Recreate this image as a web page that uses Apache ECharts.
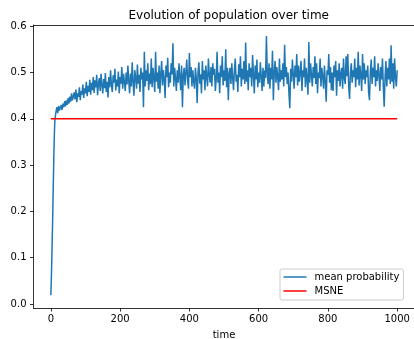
<!DOCTYPE html>
<html>
<head>
<meta charset="utf-8">
<script src="https://cdn.jsdelivr.net/npm/echarts@6/dist/echarts.min.js"></script>
<style>
html,body{margin:0;padding:0;background:#fff;}
#chart{width:414px;height:339px;}
</style>
</head>
<body>
<div id="chart"></div>
<script>
// ---- data ----
const titleText = "Evolution of population over time";
const xLabel = "time";
const seriesNames = ["mean probability", "MSNE"];
const xTicks = [0, 200, 400, 600, 800, 1000];
const yTicks = [0.0, 0.1, 0.2, 0.3, 0.4, 0.5, 0.6];

// early rise (t = 0..14)
const earlyTimes = [0, 1, 2, 3, 4, 5, 6, 7, 8, 9, 10, 11, 12, 13, 14];
const earlyValues = [0.019, 0.04, 0.07, 0.10, 0.14, 0.17, 0.21, 0.25, 0.29, 0.33, 0.36, 0.385, 0.40, 0.405, 0.41];

// later values, every 2.5 time units starting at t = 15
const laterStart = 15;
const laterStep = 2.5;
const laterValues = [
  0.415, 0.425, 0.412, 0.428, 0.418, 0.422, 0.43, 0.419, 0.433, 0.425, 0.438, 0.427, 0.44, 0.43, 0.445, 0.433, 0.448, 0.437, 0.455, 0.44,
  0.438, 0.457, 0.442, 0.463, 0.436, 0.455, 0.447, 0.468, 0.44, 0.46, 0.452, 0.474, 0.445, 0.466, 0.455, 0.48, 0.449, 0.471, 0.458, 0.484,
  0.452, 0.478, 0.462, 0.49, 0.456, 0.483, 0.468, 0.495, 0.451, 0.476, 0.488, 0.46, 0.497, 0.472, 0.455, 0.486, 0.466, 0.499, 0.458, 0.48,
  0.446, 0.49, 0.468, 0.505, 0.472, 0.458, 0.494, 0.478, 0.508, 0.461, 0.485, 0.47, 0.502, 0.455, 0.49, 0.476, 0.512, 0.465, 0.497, 0.48,
  0.46, 0.5, 0.474, 0.515, 0.482, 0.455, 0.498, 0.47, 0.522, 0.48, 0.45, 0.505, 0.488, 0.465, 0.517, 0.476, 0.495, 0.458, 0.51, 0.485,
  0.5, 0.425, 0.545, 0.47, 0.505, 0.482, 0.52, 0.462, 0.498, 0.475, 0.53, 0.468, 0.51, 0.488, 0.458, 0.545, 0.48, 0.5, 0.465, 0.515,
  0.455, 0.498, 0.525, 0.472, 0.505, 0.485, 0.445, 0.515, 0.49, 0.532, 0.468, 0.5, 0.478, 0.52, 0.496, 0.563, 0.47, 0.51, 0.488, 0.46,
  0.505, 0.478, 0.52, 0.49, 0.462, 0.515, 0.425, 0.495, 0.51, 0.472, 0.5, 0.528, 0.482, 0.465, 0.542, 0.49, 0.512, 0.47, 0.505, 0.48,
  0.465, 0.51, 0.488, 0.434, 0.5, 0.522, 0.476, 0.496, 0.455, 0.525, 0.485, 0.505, 0.462, 0.515, 0.49, 0.47, 0.53, 0.495, 0.478, 0.512,
  0.47, 0.52, 0.495, 0.508, 0.46, 0.485, 0.545, 0.478, 0.5, 0.455, 0.515, 0.49, 0.535, 0.472, 0.505, 0.482, 0.55, 0.468, 0.51, 0.44,
  0.498, 0.51, 0.475, 0.52, 0.488, 0.462, 0.505, 0.53, 0.48, 0.495, 0.458, 0.518, 0.49, 0.535, 0.47, 0.508, 0.485, 0.525, 0.475, 0.565,
  0.48, 0.505, 0.462, 0.52, 0.49, 0.51, 0.47, 0.538, 0.495, 0.455, 0.515, 0.485, 0.528, 0.468, 0.5, 0.478, 0.522, 0.492, 0.46, 0.51,
  0.47, 0.505, 0.488, 0.579, 0.495, 0.475, 0.52, 0.465, 0.51, 0.485, 0.547, 0.44, 0.5, 0.525, 0.478, 0.512, 0.49, 0.462, 0.53, 0.48,
  0.505, 0.485, 0.52, 0.47, 0.56, 0.49, 0.512, 0.475, 0.5, 0.455, 0.423, 0.508, 0.48, 0.528, 0.495, 0.465, 0.515, 0.49, 0.54, 0.472,
  0.515, 0.48, 0.5, 0.525, 0.46, 0.505, 0.49, 0.53, 0.468, 0.51, 0.485, 0.452, 0.566, 0.478, 0.52, 0.495, 0.47, 0.512, 0.488, 0.535,
  0.475, 0.52, 0.455, 0.5, 0.488, 0.53, 0.47, 0.51, 0.492, 0.465, 0.515, 0.48, 0.437, 0.505, 0.495, 0.54, 0.478, 0.512, 0.462, 0.5,
  0.46, 0.515, 0.49, 0.525, 0.45, 0.505, 0.482, 0.52, 0.47, 0.498, 0.51, 0.465, 0.53, 0.488, 0.475, 0.535, 0.492, 0.54, 0.47, 0.443,
  0.5, 0.52, 0.478, 0.505, 0.49, 0.53, 0.468, 0.51, 0.485, 0.545, 0.472, 0.515, 0.495, 0.46, 0.54, 0.485, 0.52, 0.475, 0.505, 0.49,
  0.515, 0.458, 0.44, 0.5, 0.528, 0.475, 0.51, 0.49, 0.535, 0.47, 0.505, 0.482, 0.52, 0.496, 0.46, 0.512, 0.485, 0.53, 0.47, 0.426,
  0.49, 0.525, 0.47, 0.51, 0.485, 0.53, 0.475, 0.559, 0.48, 0.52, 0.465, 0.53, 0.49, 0.47, 0.505
];

const msneTimes = [0, 1000];
const msneValues = [0.4, 0.4];

// ---- build series data ----
const meanData = earlyTimes.map((t, i) => [t, earlyValues[i]]);
laterValues.forEach((v, i) => meanData.push([laterStart + i * laterStep, v]));
const msneData = msneTimes.map((t, i) => [t, msneValues[i]]);

const FONT = "DejaVu Sans";
const AX = "#000";

const chart = echarts.init(document.getElementById('chart'), null, {renderer: 'canvas'});
chart.setOption({
  animation: false,
  backgroundColor: '#fff',
  textStyle: {fontFamily: FONT},
  title: {
    text: titleText,
    left: 223.7,
    textAlign: 'center',
    top: 5,
    textStyle: {fontFamily: FONT, fontSize: 12, fontWeight: 'normal', color: '#000'}
  },
  grid: {left: 33.5, top: 25, width: 381, height: 283, containLabel: false, outerBoundsMode: 'none', show: false},
  legend: {
    orient: 'vertical',
    left: 280,
    top: 269,
    padding: [3, 4, 4, 3.5],
    itemGap: 4,
    itemWidth: 23,
    itemHeight: 12,
    backgroundColor: 'rgba(255,255,255,0.8)',
    borderColor: '#cccccc',
    borderWidth: 1,
    borderRadius: 2,
    textStyle: {fontFamily: FONT, fontSize: 10, color: '#000', padding: [0, 0, 0, 3]},
    data: [
      {name: seriesNames[0], icon: 'path://M0,0 L23,0 L23,1.5 L0,1.5 Z', itemStyle: {color: '#1f77b4'}},
      {name: seriesNames[1], icon: 'path://M0,0 L23,0 L23,1.5 L0,1.5 Z', itemStyle: {color: '#ff0000'}}
    ]
  },
  xAxis: [{
    type: 'value',
    min: -50, max: 1050,
    name: xLabel,
    nameLocation: 'middle',
    nameGap: 22,
    nameTextStyle: {fontFamily: FONT, fontSize: 10, color: '#000'},
    axisLine: {show: true, onZero: false, lineStyle: {color: AX, width: 0.8}},
    axisTick: {show: true, length: 3.5, lineStyle: {color: AX, width: 0.8}, customValues: xTicks},
    axisLabel: {show: true, margin: 6, fontFamily: FONT, fontSize: 10, color: '#000', customValues: xTicks,
      formatter: v => String(Math.round(v))},
    splitLine: {show: false}
  }, {
    type: 'value', position: 'top', min: -50, max: 1050,
    axisLine: {show: true, onZero: false, lineStyle: {color: AX, width: 0.8}},
    axisTick: {show: false}, axisLabel: {show: false}, splitLine: {show: false}
  }],
  yAxis: [{
    type: 'value',
    min: -0.0086, max: 0.6026,
    axisLine: {show: true, onZero: false, lineStyle: {color: AX, width: 0.8}},
    axisTick: {show: true, length: 3.5, lineStyle: {color: AX, width: 0.8}, customValues: yTicks},
    axisLabel: {show: true, margin: 7, fontFamily: FONT, fontSize: 10, color: '#000', customValues: yTicks,
      formatter: v => v.toFixed(1)},
    splitLine: {show: false}
  }, {
    type: 'value', position: 'right', min: -0.0086, max: 0.6026,
    axisLine: {show: true, onZero: false, lineStyle: {color: AX, width: 0.8}},
    axisTick: {show: false}, axisLabel: {show: false}, splitLine: {show: false}
  }],
  series: [{
    name: seriesNames[0],
    type: 'line',
    data: meanData,
    symbol: 'none',
    sampling: null,
    lineStyle: {color: '#1f77b4', width: 1.5},
    itemStyle: {color: '#1f77b4'}
  }, {
    name: seriesNames[1],
    type: 'line',
    data: msneData,
    symbol: 'none',
    lineStyle: {color: '#ff0000', width: 1.5},
    itemStyle: {color: '#ff0000'}
  }]
});
</script>
</body>
</html>
